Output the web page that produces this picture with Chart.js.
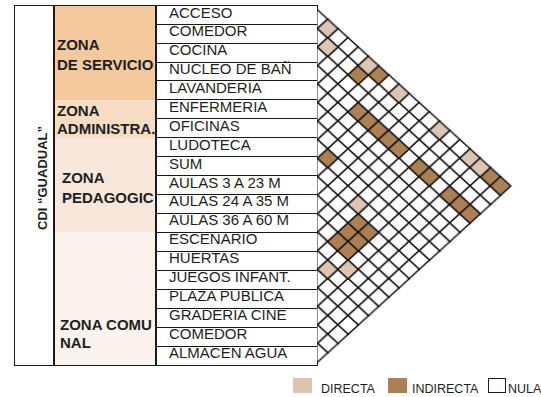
<!DOCTYPE html>
<html>
<head>
<meta charset="utf-8">
<script src="https://cdn.jsdelivr.net/npm/chart.js@4.4.1/dist/chart.umd.min.js"></script>
<style>
  body { margin: 0; background: #fff; font-family: "Liberation Sans", Arial, sans-serif; color: #1e1e1e; }
  #page { position: relative; width: 541px; height: 397px; overflow: hidden; }
  .abs { position: absolute; box-sizing: border-box; }
  .frame { left: 14px; top: 5px; width: 304px; height: 361px; border: 1.5px solid #1a1a1a; }
  .cdiLine { left: 53px; top: 5px; width: 1.5px; height: 361px; background: #1a1a1a; }
  .cdiText { left: 42px; top: 178px; font-weight: bold; font-size: 13px; white-space: nowrap;
             transform: translate(-50%, -50%) rotate(-90deg); }
  .zone { left: 54.5px; width: 102px; border-right: 2px solid #1a1a1a; overflow: hidden; }
  .zoneText { font-weight: bold; font-size: 15px; white-space: nowrap; position: absolute; }
  .row { left: 156px; width: 162px; border: 1.3px solid #1a1a1a; border-top: none; }
  .row span { position: absolute; left: 12px; font-size: 15px; white-space: nowrap; }
  .sw { top: 378px; height: 15px; }
  .lg { top: 389px; font-size: 12.5px; transform: translateY(-50%); white-space: nowrap; }
  #chartBox { position: absolute; left: 300px; top: 0; width: 241px; height: 372px; }
</style>
</head>
<body>
<div id="page">
  <div id="table"></div>
  <div id="chartBox"><canvas id="matrix"></canvas></div>
  <div class="abs sw" style="left:293px;width:19px;background:#dcc6b1;"></div>
  <div class="abs lg" style="left:321px;">DIRECTA</div>
  <div class="abs sw" style="left:388px;width:19px;background:#ad8053;"></div>
  <div class="abs lg" style="left:412px;">INDIRECTA</div>
  <div class="abs sw" style="left:488px;width:18px;background:#fff;border:1.2px solid #1e1e1e;"></div>
  <div class="abs lg" style="left:508px;">NULA</div>
</div>
<script>
// espacios del CDI (filas de la matriz)
var rooms = ['ACCESO', 'COMEDOR', 'COCINA', 'NUCLEO DE BAÑ', 'LAVANDERIA', 'ENFERMERIA', 'OFICINAS',
  'LUDOTECA', 'SUM', 'AULAS 3 A 23 M', 'AULAS 24 A 35 M', 'AULAS 36 A 60 M', 'ESCENARIO', 'HUERTAS',
  'JUEGOS INFANT.', 'PLAZA PUBLICA', 'GRADERIA CINE', 'COMEDOR', 'ALMACEN AGUA'];

// zonas: cuantas filas abarca cada una
var zoneLabels = [['ZONA', 'DE SERVICIO'], ['ZONA', 'ADMINISTRA.'], ['ZONA', 'PEDAGOGIC'], ['ZONA COMU', 'NAL']];
var zoneRows = [5, 2, 5, 7];
var zoneColors = ['#f3c99d', '#f7dcc4', '#f9e7db', '#fcf3ee'];
var zoneTextPos = [[57, 30, 20], [57, 2, 18], [62, 30, 20], [60, 84, 18]];

// relaciones [fila, fila]
var directa = [[0, 1], [1, 2], [0, 5], [0, 8], [0, 12], [0, 15], [0, 16], [8, 12], [13, 14], [12, 15]];
var indirecta = [[1, 5], [0, 6], [3, 7], [3, 8], [3, 9], [3, 10], [3, 11], [7, 8], [3, 13], [3, 14],
  [3, 16], [3, 17], [3, 18], [0, 17], [0, 18], [9, 13], [10, 13], [9, 14], [11, 13], [10, 14], [11, 14]];

var TOP = 5, ROW_H = 360 / 19;

// tabla de la izquierda
var table = document.getElementById('table');
var html = '';
var r0 = 0;
zoneRows.forEach(function (n, z) {
  var p = zoneTextPos[z];
  html += '<div class="abs zone" style="top:' + (TOP + r0 * ROW_H) + 'px;height:' + (n * ROW_H + 0.5) +
    'px;background:' + zoneColors[z] + ';">' +
    '<div class="zoneText" style="left:' + (p[0] - 54.5) + 'px;top:' + p[1] + 'px;line-height:' + p[2] + 'px;">' +
    zoneLabels[z].join('<br>') + '</div></div>';
  r0 += n;
});
rooms.forEach(function (name, k) {
  html += '<div class="abs row" style="top:' + (TOP + k * ROW_H) + 'px;height:' + (ROW_H + 0.7) + 'px;' +
    (k == 0 ? 'border-top:1.3px solid #1a1a1a;' : '') + '"><span style="top:-2px;line-height:' + ROW_H + 'px;">' +
    name + '</span></div>';
});
html += '<div class="abs frame"></div><div class="abs cdiLine"></div>' +
  '<div class="abs cdiText">CDI “GUADUAL”</div>';
table.innerHTML = html;

function diamond(fill) {
  var c = document.createElement('canvas');
  c.width = 24; c.height = 22;
  var g = c.getContext('2d');
  g.beginPath();
  g.moveTo(12, 11 - ROW_H / 2);
  g.lineTo(12 + 10.25, 11);
  g.lineTo(12, 11 + ROW_H / 2);
  g.lineTo(12 - 10.25, 11);
  g.closePath();
  g.fillStyle = fill;
  g.fill();
  g.lineWidth = 1.5;
  g.strokeStyle = '#141414';
  g.stroke();
  return c;
}

function key(p) { return p[0] + '-' + p[1]; }
function toPoint(p) { return { x: p[1] - p[0], y: (p[0] + p[1]) / 2 }; }

var used = {};
directa.concat(indirecta).forEach(function (p) { used[key(p)] = true; });
var nula = [];
for (var i = 0; i < rooms.length; i++) {
  for (var j = i; j < rooms.length; j++) {
    if (!used[key([i, j])]) nula.push([i, j]);
  }
}

function ds(label, cells, fill, order) {
  return {
    label: label,
    data: cells.map(toPoint),
    pointStyle: diamond(fill),
    pointRadius: 10,
    borderWidth: 0,
    order: order,
    clip: { left: 0, top: 12, right: 12, bottom: 12 }
  };
}

var matrix = new Chart(document.getElementById('matrix'), {
  type: 'scatter',
  data: {
    datasets: [
      ds('DIRECTA', directa, '#dcc6b1', 1),
      ds('INDIRECTA', indirecta, '#ad8053', 1),
      ds('NULA', nula, '#ffffff', 2)
    ]
  },
  options: {
    responsive: true,
    maintainAspectRatio: false,
    animation: false,
    events: [],
    layout: { padding: { left: 17.5, top: 5, right: 8.25, bottom: 7 } },
    scales: {
      x: { type: 'linear', min: 0, max: 21, display: false },
      y: { type: 'linear', min: -0.5, max: 18.5, reverse: true, display: false }
    },
    plugins: { legend: { display: false }, tooltip: { enabled: false } }
  }
});
</script>
</body>
</html>
